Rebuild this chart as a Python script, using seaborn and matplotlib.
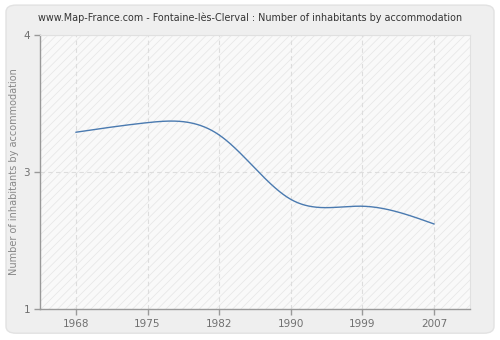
import numpy as np
import pandas as pd
import matplotlib
matplotlib.use("Agg")
import matplotlib.pyplot as plt
from matplotlib.patches import FancyBboxPatch, Rectangle
import seaborn as sns

years = ["1968", "1975", "1982", "1990", "1999", "2007"]
values = [3.29, 3.36, 3.27, 2.80, 2.75, 2.62]
ytick_pos = [2, 3, 4]
ytick_labels = ["1", "3", "4"]
title = "www.Map-France.com - Fontaine-lès-Clerval : Number of inhabitants by accommodation"
ylabel = "Number of inhabitants by accommodation"


def natural_spline(x, y, xs):
    x = np.asarray(x, float); y = np.asarray(y, float)
    n = len(x)
    h = np.diff(x)
    A = np.zeros((n, n)); b = np.zeros(n)
    A[0, 0] = 1; A[-1, -1] = 1
    for i in range(1, n - 1):
        A[i, i - 1] = h[i - 1]
        A[i, i] = 2 * (h[i - 1] + h[i])
        A[i, i + 1] = h[i]
        b[i] = 3 * ((y[i + 1] - y[i]) / h[i] - (y[i] - y[i - 1]) / h[i - 1])
    c = np.linalg.solve(A, b)
    out = np.empty_like(xs)
    for k, xv in enumerate(xs):
        i = min(max(np.searchsorted(x, xv) - 1, 0), n - 2)
        dx = xv - x[i]
        bi = (y[i + 1] - y[i]) / h[i] - h[i] * (2 * c[i] + c[i + 1]) / 3
        di = (c[i + 1] - c[i]) / (3 * h[i])
        out[k] = y[i] + bi * dx + c[i] * dx ** 2 + di * dx ** 3
    return out


sns.set_theme(style="white")
plt.rcParams["font.family"] = ["DejaVu Sans"]
plt.rcParams["hatch.color"] = "#e8e8e8"
plt.rcParams["hatch.linewidth"] = 0.6

fig = plt.figure(figsize=(5, 3.4), dpi=100)
fig.patch.set_facecolor("white")
bg = FancyBboxPatch((0.012, 0.02), 0.976, 0.965,
                    boxstyle="round,pad=0,rounding_size=0.02",
                    transform=fig.transFigure, facecolor="#efefef",
                    edgecolor="#e2e2e2", linewidth=1, zorder=-10)
fig.patches.append(bg)
ax = fig.add_axes([0.08, 0.0912, 0.86, 0.806])
ax.set_zorder(1)
ax.set_facecolor("#f9f9f9")
ax.add_patch(Rectangle((0, 0), 1, 1, transform=ax.transAxes, facecolor="none",
                       hatch="////", edgecolor="#e8e8e8", linewidth=0, zorder=0))

xi = np.arange(len(years))
xs = np.linspace(0, len(years) - 1, 400)
df = pd.DataFrame({"x": xs, "y": natural_spline(xi, values, xs)})
sns.lineplot(data=df, x="x", y="y", ax=ax, color="#4a7ab0", linewidth=1.0, zorder=3)

ax.set_xlim(-0.5, len(years) - 0.5)
ax.set_ylim(2, 4)
ax.set_xticks(xi, labels=years)
ax.set_yticks(ytick_pos, labels=ytick_labels)
ax.grid(True, color="#dddddd", linestyle=(0, (4, 3)), linewidth=0.8)
ax.set_axisbelow(True)
for s in ["top", "right"]:
    ax.spines[s].set_color("#e0e0e0")
    ax.spines[s].set_linewidth(0.8)
for s in ["left", "bottom"]:
    ax.spines[s].set_color("#999999")
    ax.spines[s].set_linewidth(1.0)
ax.tick_params(axis="both", colors="#999999", labelcolor="#707070", labelsize=7.5,
               length=4, width=1, direction="out", bottom=True, left=True, pad=3)
ax.set_xlabel("")
ax.set_ylabel(ylabel, fontsize=7.0, color="#888888", labelpad=3)
fig.text(0.5, 0.948, title, ha="center", va="center", fontsize=6.9, color="#333333")

fig.savefig("out.png", dpi=100, facecolor=fig.get_facecolor())
